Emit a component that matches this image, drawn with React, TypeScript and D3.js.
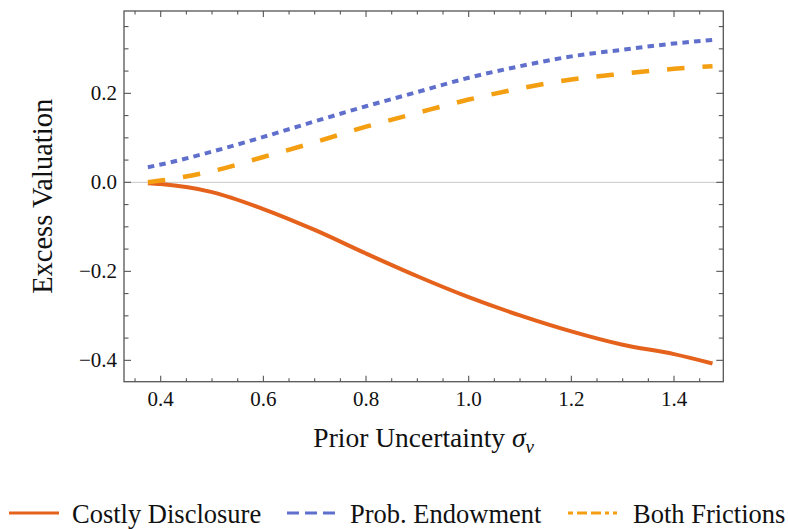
import React from "react";
import * as d3 from "d3";

const sigma = [0.375, 0.4, 0.5, 0.6, 0.7, 0.8, 0.9, 1.0, 1.1, 1.2, 1.3, 1.4, 1.475];
const costlyDisclosure = [-0.002, -0.004, -0.022, -0.06, -0.107, -0.16, -0.211, -0.258, -0.299, -0.335, -0.365, -0.386, -0.407];
const probEndowment = [0.034, 0.04, 0.069, 0.102, 0.137, 0.171, 0.203, 0.235, 0.261, 0.283, 0.298, 0.312, 0.32];
const bothFrictions = [0.0, 0.004, 0.025, 0.057, 0.09, 0.125, 0.156, 0.186, 0.211, 0.231, 0.244, 0.255, 0.261];

const xMajor = [0.4, 0.6, 0.8, 1.0, 1.2, 1.4];
const yMajor = [-0.4, -0.2, 0.0, 0.2];
const seriesNames = ["Costly Disclosure", "Prob. Endowment", "Both Frictions"];

const W = 788;
const H = 529;
const L = 124, R = 723.3, T = 11, B = 381.7;
const C_RED = "#E5621C";
const C_BLUE = "#5F6FCB";
const C_ORANGE = "#F49E12";
const FRAME = "#555";
const FONT = '"Liberation Serif", "Times New Roman", Times, "DejaVu Serif", serif';

export default function App() {
  const x = d3.scaleLinear().domain([0.3285, 1.496]).range([L, R]);
  const y = d3.scaleLinear().domain([-0.448, 0.385]).range([B, T]);

  const line = (vals: number[]) =>
    d3
      .line<number>()
      .x((_, i) => x(sigma[i]))
      .y((d) => y(d))
      .curve(d3.curveMonotoneX)(vals) || "";

  const xMinor = d3.range(0.35, 1.5, 0.05).map((v) => +v.toFixed(2));
  const yMinor = d3.range(-0.45, 0.4, 0.05).map((v) => +v.toFixed(2)).filter((v) => v >= -0.448 && v <= 0.385);
  const isMajor = (v: number, arr: number[]) => arr.some((m) => Math.abs(m - v) < 1e-6);
  const fmt = (v: number) => (v < 0 ? "\u2212" : "") + Math.abs(v).toFixed(1);

  const legend = [
    { name: seriesNames[0], color: C_RED, dash: "none", x0: 9, tx: 72 },
    { name: seriesNames[1], color: C_BLUE, dash: "12,6", x0: 287, tx: 350 },
    { name: seriesNames[2], color: C_ORANGE, dash: "5,4,10,4,10,4,4,4,4,10", x0: 568, tx: 633 },
  ];

  return (
    <svg width={W} height={H} style={{ position: "absolute", left: 0, top: 0, fontFamily: FONT }}>
      <rect x={0} y={0} width={W} height={H} fill="#fff" />
      <line x1={L} x2={R} y1={y(0)} y2={y(0)} stroke="#c8c8c8" strokeWidth={1} />
      <path d={line(costlyDisclosure)} fill="none" stroke={C_RED} strokeWidth={4} />
      <path d={line(probEndowment)} fill="none" stroke={C_BLUE} strokeWidth={4} strokeDasharray="6.5,5.2" />
      <path d={line(bothFrictions)} fill="none" stroke={C_ORANGE} strokeWidth={4.5} strokeDasharray="17.5,18" />
      <rect x={L} y={T} width={R - L} height={B - T} fill="none" stroke={FRAME} strokeWidth={1.3} />
      {xMinor.map((v) => {
        const len = isMajor(v, xMajor) ? 6 : 3.5;
        return (
          <g key={"xt" + v}>
            <line x1={x(v)} x2={x(v)} y1={B} y2={B - len} stroke={FRAME} strokeWidth={1.1} />
            <line x1={x(v)} x2={x(v)} y1={T} y2={T + len} stroke={FRAME} strokeWidth={1.1} />
          </g>
        );
      })}
      {yMinor.map((v) => {
        const len = isMajor(v, yMajor) ? 7 : 4.5;
        return (
          <g key={"yt" + v}>
            <line x1={L} x2={L + len} y1={y(v)} y2={y(v)} stroke={FRAME} strokeWidth={1.1} />
            <line x1={R} x2={R - len} y1={y(v)} y2={y(v)} stroke={FRAME} strokeWidth={1.1} />
          </g>
        );
      })}
      {xMajor.map((v) => (
        <text key={"xl" + v} x={x(v)} y={406} textAnchor="middle" fontSize={21} fill="#111" style={{ fontFamily: FONT }}>
          {v.toFixed(1)}
        </text>
      ))}
      {yMajor.map((v) => (
        <text key={"yl" + v} x={117} y={y(v) + 7} textAnchor="end" fontSize={21} fill="#111" style={{ fontFamily: FONT }}>
          {fmt(v)}
        </text>
      ))}
      <text x={(L + R) / 2} y={447} textAnchor="middle" fontSize={27.5} fill="#111" style={{ fontFamily: FONT }}>
        Prior Uncertainty{" "}
        <tspan fontStyle="italic">σ</tspan>
        <tspan fontStyle="italic" fontSize={19} dy={6}>v</tspan>
      </text>
      <text
        transform={`translate(52, ${(T + B) / 2}) rotate(-90)`}
        textAnchor="middle"
        fontSize={28.5}
        fill="#111"
        style={{ fontFamily: FONT }}
      >
        Excess Valuation
      </text>
      {legend.map((l) => (
        <g key={l.name}>
          <line x1={l.x0} x2={l.x0 + 50} y1={513} y2={513} stroke={l.color} strokeWidth={3.2} strokeDasharray={l.dash} />
          <text x={l.tx} y={523} fontSize={26.5} fill="#111" style={{ fontFamily: FONT }}>
            {l.name}
          </text>
        </g>
      ))}
    </svg>
  );
}
